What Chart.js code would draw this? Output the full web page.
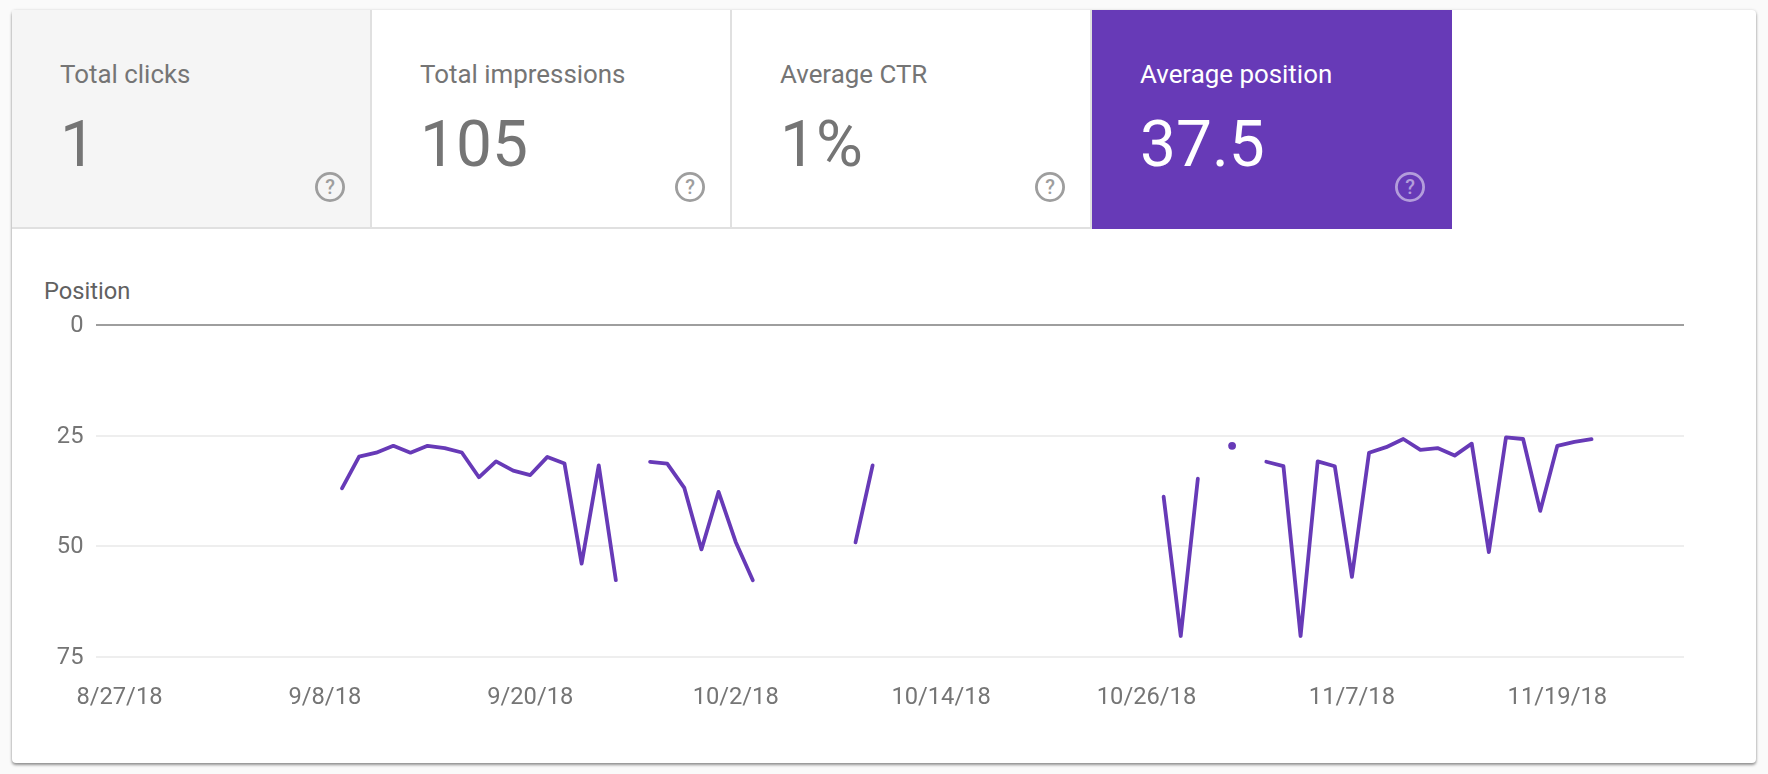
<!DOCTYPE html>
<html>
<head>
<meta charset="utf-8">
<title>Average position</title>
<script src="https://cdn.jsdelivr.net/npm/chart.js@4/dist/chart.umd.min.js"></script>
<style>
    html, body { margin: 0; padding: 0; width: 1768px; height: 774px; overflow: hidden; background: #fafafa; font-family: Roboto, sans-serif; }
    .card { position: absolute; left: 12px; top: 10px; width: 1744px; height: 753px; background: #fff; border-radius: 4px; box-shadow: 0 2px 3px rgba(0,0,0,.4), 0 0 3px rgba(0,0,0,.12); }
    .tile { position: absolute; top: 10px; height: 219px; box-sizing: border-box; color: #757575; border-bottom: 2px solid #e0e0e0; border-right: 2px solid #e0e0e0; }
    .tile.clicks { left: 12px; width: 360px; background: #f5f5f5; }
    .tile.impressions { left: 372px; width: 360px; background: #fff; }
    .tile.ctr { left: 732px; width: 360px; background: #fff; }
    .tile.position { left: 1092px; width: 360px; background: #673ab7; color: #fff; border: 0; }
    .tile .name { position: absolute; left: 48px; top: 48px; font-size: 25.9px; line-height: 32px; white-space: nowrap; }
    .tile .value { position: absolute; left: 48px; top: 96.5px; font-size: 64px; line-height: 76px; white-space: nowrap; }
    .tile svg { position: absolute; left: 300.7px; top: 160px; }
    .axis-name { position: absolute; left: 44px; top: 276px; font-size: 23.7px; line-height: 30px; color: #616161; }
    canvas { position: absolute; left: 12px; top: 235px; }
</style>
</head>
<body>
<div class="card"></div>
<div id="tiles"></div>
<div class="axis-name">Position</div>
<canvas id="positionChart" width="1744" height="520"></canvas>
<script>
// day 0 is 8/27/18, null means no data that day
const positions = [
    null, null, null, null, null, null, null, null, null, null, null, null, null,
    36.9, 29.75, 28.85, 27.3, 28.85, 27.3, 27.8, 28.8, 34.4, 30.8, 32.9, 33.9, 29.8, 31.3, 53.9, 31.7, 57.65,
    null,
    30.9, 31.3, 36.8, 50.7, 37.7, 49, 57.65,
    null, null, null, null, null,
    49.1, 31.7,
    null, null, null, null, null, null, null, null, null, null, null, null, null, null, null, null,
    38.8, 70.25, 34.7,
    null,
    27.3,
    null,
    30.9, 31.9, 70.25, 30.8, 31.9, 56.9, 28.85, 27.6, 25.75, 28.2, 27.8, 29.5, 26.8, 51.3, 25.4, 25.75, 42, 27.3, 26.4, 25.8
];
const tickDays = [0, 12, 24, 36, 48, 60, 72, 84];
const tickLabels = ['8/27/18', '9/8/18', '9/20/18', '10/2/18', '10/14/18', '10/26/18', '11/7/18', '11/19/18'];
const positionTicks = [0, 25, 50, 75];

const tileNames = ['Total clicks', 'Total impressions', 'Average CTR', 'Average position'];
const tileValues = ['1', '105', '1%', '37.5'];
const tileClasses = ['clicks', 'impressions', 'ctr', 'position'];

function helpIcon(color) {
    return `<svg width="34" height="34" viewBox="0 0 34 34">
        <circle cx="17" cy="17" r="13.6" fill="none" stroke="${color}" stroke-width="2.8"/>
        <text x="17" y="24" text-anchor="middle" font-family="Roboto" font-size="20" font-weight="500" fill="${color}">?</text>
    </svg>`;
}

document.getElementById('tiles').innerHTML = tileNames.map((name, i) => `
    <div class="tile ${tileClasses[i]}">
        <div class="name">${name}</div>
        <div class="value">${tileValues[i]}</div>
        ${helpIcon(i === 3 ? '#b39ddb' : '#9e9e9e')}
    </div>
`).join('');

const tickFont = { family: 'Roboto', size: 23.7 };

new Chart(document.getElementById('positionChart'), {
    type: 'line',
    data: {
        datasets: [{
            label: 'Position',
            data: positions.map((y, x) => ({ x, y })),
            borderColor: '#673ab7',
            backgroundColor: '#673ab7',
            borderWidth: 3.8,
            borderJoinStyle: 'round',
            borderCapStyle: 'round',
            tension: 0,
            spanGaps: false,
            // lone days have no segment, so they need a dot
            pointRadius: ctx => {
                const before = positions[ctx.dataIndex - 1];
                const after = positions[ctx.dataIndex + 1];
                return before == null && after == null ? 3.9 : 0;
            },
            pointBorderWidth: 0,
            pointHoverRadius: 4
        }]
    },
    options: {
        responsive: false,
        animation: false,
        layout: { padding: { top: 90, right: 72, left: 0, bottom: 0 } },
        plugins: { legend: { display: false }, tooltip: { enabled: false } },
        scales: {
            x: {
                type: 'linear',
                min: -1.37,
                max: 91.4,
                grid: { display: false, drawTicks: false },
                border: { display: false },
                afterBuildTicks: axis => { axis.ticks = tickDays.map(value => ({ value })); },
                afterFit: axis => { axis.height = 98; },
                ticks: {
                    autoSkip: false,
                    maxRotation: 0,
                    padding: 27,
                    color: '#757575',
                    font: tickFont,
                    callback: value => tickLabels[tickDays.indexOf(value)]
                }
            },
            y: {
                reverse: true,
                min: 0,
                max: 75,
                border: { display: false },
                grid: {
                    drawTicks: false,
                    lineWidth: 2,
                    color: ctx => ctx.tick.value === 0 ? '#9e9e9e' : '#eeeeee'
                },
                afterBuildTicks: axis => { axis.ticks = positionTicks.map(value => ({ value })); },
                afterFit: axis => { axis.width = 84; },
                ticks: { padding: 12.5, labelOffset: 1, color: '#757575', font: tickFont }
            }
        }
    }
});
</script>
</body>
</html>
